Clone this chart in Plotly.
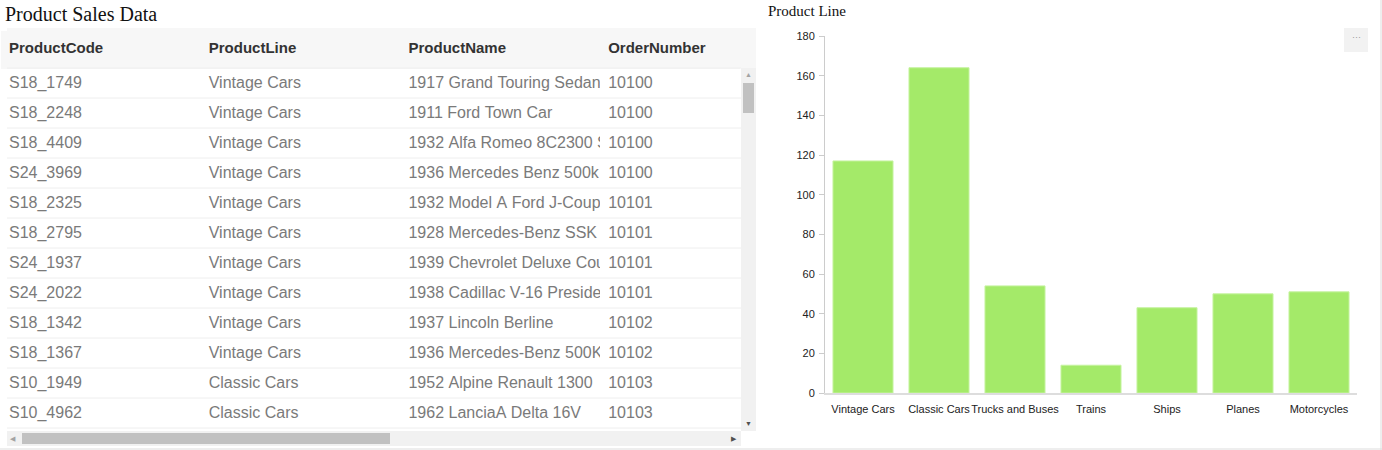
import plotly.graph_objects as go

# ---- data ----
table_columns = ["ProductCode", "ProductLine", "ProductName", "OrderNumber"]
product_codes = ["S18_1749", "S18_2248", "S18_4409", "S24_3969", "S18_2325", "S18_2795",
                 "S24_1937", "S24_2022", "S18_1342", "S18_1367", "S10_1949", "S10_4962"]
product_lines_col = ["Vintage Cars"] * 10 + ["Classic Cars"] * 2
product_names = ["1917 Grand Touring Sedan", "1911 Ford Town Car",
                 "1932 Alfa Romeo 8C2300 Spider Sport", "1936 Mercedes Benz 500k Roadster",
                 "1932 Model A Ford J-Coupe", "1928 Mercedes-Benz SSK",
                 "1939 Chevrolet Deluxe Coupe", "1938 Cadillac V-16 Presidential Limousine",
                 "1937 Lincoln Berline", "1936 Mercedes-Benz 500K Special Roadster",
                 "1952 Alpine Renault 1300", "1962 LanciaA Delta 16V"]
order_numbers = ["10100", "10100", "10100", "10100", "10101", "10101",
                 "10101", "10101", "10102", "10102", "10103", "10103"]

bar_categories = ["Vintage Cars", "Classic Cars", "Trucks and Buses", "Trains",
                  "Ships", "Planes", "Motorcycles"]
bar_values = [117, 164, 54, 14, 43, 50, 51]

W, H = 1382, 450
def px_x(p):
    return p / W
def px_y(p):
    return 1 - p / H

NB = "\u00a0"
def nowrap(lst):
    return [str(s).replace(" ", NB) for s in lst]

HEADER_TOP, HEADER_H, ROW_H = 28, 40, 30
HEADER_SHIFT = 3
n_rows = len(product_codes)
rows_top = HEADER_TOP + HEADER_H
table_bottom = rows_top + ROW_H * n_rows

fig = go.Figure()

fig.add_trace(go.Table(
    domain=dict(x=[px_x(1), px_x(740)],
                y=[px_y(table_bottom + 2), px_y(HEADER_TOP + HEADER_SHIFT)]),
    columnwidth=[200, 200, 200, 139],
    header=dict(
        values=[f"<b>{c}</b>" for c in table_columns],
        fill_color="#f7f7f7",
        line=dict(color="#f7f7f7", width=1),
        align="left",
        height=HEADER_H - HEADER_SHIFT,
        font=dict(family="Liberation Sans, Arial, sans-serif", size=15, color="#333333"),
    ),
    cells=dict(
        values=[nowrap(product_codes), nowrap(product_lines_col),
                nowrap(product_names), nowrap(order_numbers)],
        fill_color="white",
        line=dict(color="white", width=1),
        align="left",
        height=ROW_H,
        font=dict(family="Liberation Sans, Arial, sans-serif", size=16, color="#7a7a7a"),
    ),
))

fig.add_trace(go.Bar(
    x=bar_categories, y=bar_values,
    marker=dict(color="#a4ea69", line=dict(color="#c6f3a0", width=1)),
    hoverinfo="x+y",
    xaxis="x", yaxis="y",
))

shapes = []
# header background (full width incl. scrollbar column)
shapes.append(dict(type="rect", xref="paper", yref="paper",
                   x0=px_x(7), x1=px_x(756), y0=px_y(rows_top), y1=px_y(HEADER_TOP),
                   fillcolor="#f7f7f7", line=dict(width=0), layer="below"))
# row separators of the table
for i in range(n_rows + 1):
    yy = rows_top + ROW_H * i
    shapes.append(dict(type="line", xref="paper", yref="paper",
                       x0=px_x(7), x1=px_x(741), y0=px_y(yy), y1=px_y(yy),
                       line=dict(color="#eeeeee", width=1), layer="above"))
# vertical scrollbar
shapes.append(dict(type="rect", xref="paper", yref="paper",
                   x0=px_x(741), x1=px_x(756), y0=px_y(431), y1=px_y(rows_top),
                   fillcolor="#f1f1f1", line=dict(width=0), layer="above"))
shapes.append(dict(type="rect", xref="paper", yref="paper",
                   x0=px_x(743), x1=px_x(754), y0=px_y(113), y1=px_y(83),
                   fillcolor="#c1c1c1", line=dict(width=0), layer="above"))
# horizontal scrollbar
shapes.append(dict(type="rect", xref="paper", yref="paper",
                   x0=px_x(7), x1=px_x(741), y0=px_y(446), y1=px_y(431),
                   fillcolor="#f1f1f1", line=dict(width=0), layer="above"))
shapes.append(dict(type="rect", xref="paper", yref="paper",
                   x0=px_x(22), x1=px_x(390), y0=px_y(444), y1=px_y(433),
                   fillcolor="#c1c1c1", line=dict(width=0), layer="above"))
# page border
shapes.append(dict(type="line", xref="paper", yref="paper",
                   x0=0, x1=1, y0=px_y(449), y1=px_y(449),
                   line=dict(color="#dddddd", width=1)))
shapes.append(dict(type="line", xref="paper", yref="paper",
                   x0=px_x(1381), x1=px_x(1381), y0=0, y1=1,
                   line=dict(color="#dddddd", width=1)))
# menu button
shapes.append(dict(type="rect", xref="paper", yref="paper",
                   x0=px_x(1344), x1=px_x(1368), y0=px_y(52), y1=px_y(28),
                   fillcolor="#f2f2f2", line=dict(width=0)))

annotations = [
    dict(text="Product Sales Data", x=px_x(3), y=px_y(1), xref="paper", yref="paper",
         xanchor="left", yanchor="top", showarrow=False,
         font=dict(family="Liberation Serif, Times New Roman, serif", size=20, color="#111111")),
    dict(text="Product Line", x=px_x(766), y=px_y(1), xref="paper", yref="paper",
         xanchor="left", yanchor="top", showarrow=False,
         font=dict(family="Liberation Serif, Times New Roman, serif", size=15, color="#111111")),
    dict(text="···", x=px_x(1356), y=px_y(37), xref="paper", yref="paper",
         xanchor="center", yanchor="middle", showarrow=False,
         font=dict(family="Liberation Sans, Arial, sans-serif", size=9, color="#999999")),
    dict(text="▲", x=px_x(748.5), y=px_y(75), xref="paper", yref="paper",
         xanchor="center", yanchor="middle", showarrow=False,
         font=dict(size=7, color="#a3a3a3")),
    dict(text="▼", x=px_x(748.5), y=px_y(423), xref="paper", yref="paper",
         xanchor="center", yanchor="middle", showarrow=False,
         font=dict(size=7, color="#505050")),
    dict(text="◀", x=px_x(13), y=px_y(438.5), xref="paper", yref="paper",
         xanchor="center", yanchor="middle", showarrow=False,
         font=dict(size=7, color="#a3a3a3")),
    dict(text="▶", x=px_x(734), y=px_y(438.5), xref="paper", yref="paper",
         xanchor="center", yanchor="middle", showarrow=False,
         font=dict(size=7, color="#505050")),
]

fig.update_layout(
    width=W, height=H,
    margin=dict(l=0, r=0, t=0, b=0, pad=0),
    paper_bgcolor="white", plot_bgcolor="white",
    showlegend=False,
    bargap=0.21,
    xaxis=dict(domain=[px_x(825), px_x(1357)], showgrid=False, zeroline=False,
               showline=True, linecolor="#dddddd", linewidth=2,
               ticks="", tickangle=0, automargin=False, ticklabelstandoff=5,
               tickfont=dict(family="Liberation Sans, Arial, sans-serif", size=11, color="#222222"),
               fixedrange=True),
    yaxis=dict(domain=[px_y(393), px_y(36)], range=[0, 180], dtick=20,
               showgrid=False, zeroline=False, showline=True, linecolor="#cccccc", linewidth=1,
               ticks="outside", ticklen=5, tickcolor="#cccccc", automargin=False,
               ticklabelstandoff=2,
               tickfont=dict(family="Liberation Sans, Arial, sans-serif", size=11, color="#222222"),
               fixedrange=True),
    shapes=shapes,
    annotations=annotations,
    font=dict(family="Liberation Sans, Arial, sans-serif"),
)

fig.write_html(
    "out.html",
    config={"displayModeBar": False, "responsive": False},
    post_script="document.body.style.margin='0';document.body.style.overflow='hidden';",
)
